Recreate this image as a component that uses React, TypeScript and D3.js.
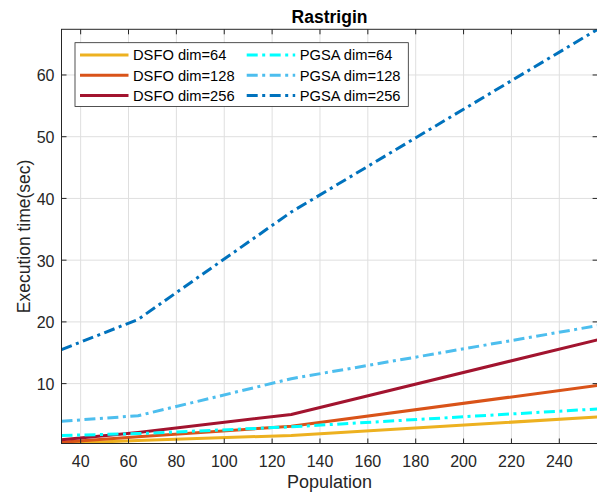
import React from "react";
import * as d3 from "d3";

const population = [32, 64, 128, 256];
const dsfo64 = [0.3, 0.8, 1.6, 4.6];
const dsfo128 = [0.5, 1.4, 3.1, 9.7];
const dsfo256 = [0.9, 2.1, 5.0, 17.1];
const pgsa64 = [1.6, 1.9, 3.0, 5.9];
const pgsa128 = [3.9, 4.8, 10.8, 19.4];
const pgsa256 = [15.5, 20.4, 37.8, 67.4];
const xTicks = [40, 60, 80, 100, 120, 140, 160, 180, 200, 220, 240];
const yTicks = [10, 20, 30, 40, 50, 60];

const seriesList = [
  { name: "DSFO dim=64", values: dsfo64, color: "#EDB120", dash: false },
  { name: "DSFO dim=128", values: dsfo128, color: "#D95319", dash: false },
  { name: "DSFO dim=256", values: dsfo256, color: "#A2142F", dash: false },
  { name: "PGSA dim=64", values: pgsa64, color: "#00FFFF", dash: true },
  { name: "PGSA dim=128", values: pgsa128, color: "#4DBEEE", dash: true },
  { name: "PGSA dim=256", values: pgsa256, color: "#0072BD", dash: true },
];

export default function App() {
  const W = 597, H = 494;
  const L = 61.5, R = 597.6, T = 29.3, B = 443.5;
  const x = d3.scaleLinear().domain([32, 256]).range([L, R]);
  const y = d3.scaleLinear().domain([0.3, 67.4]).range([B, T]);
  const line = d3.line<number>().x((_, i) => x(population[i])).y((v) => y(v));
  const font = "'Liberation Sans', Arial, Helvetica, sans-serif";
  const axisColor = "#262626";
  const dashArr = "11,4.5,3,4.5";
  const tickLen = 5;

  return (
    <div style={{ position: "absolute", left: 0, top: 0 }}>
      <svg width={W} height={H} style={{ display: "block", background: "#fff" }} fontFamily={font}>
        <defs>
          <clipPath id="plotclip">
            <rect x={L} y={T} width={R - L} height={B - T} />
          </clipPath>
        </defs>
        <rect x={0} y={0} width={W} height={H} fill="#fff" />
        {xTicks.map((t) => (
          <line key={"gx" + t} x1={x(t)} x2={x(t)} y1={T} y2={B} stroke="#dfdfdf" strokeWidth={1} />
        ))}
        {yTicks.map((t) => (
          <line key={"gy" + t} x1={L} x2={R} y1={y(t)} y2={y(t)} stroke="#dfdfdf" strokeWidth={1} />
        ))}
        <g clipPath="url(#plotclip)">
          {seriesList.map((s) => (
            <path
              key={s.name}
              d={line(s.values) || ""}
              fill="none"
              stroke={s.color}
              strokeWidth={3}
              strokeDasharray={s.dash ? dashArr : undefined}
              strokeLinejoin="round"
            />
          ))}
        </g>
        <rect x={L} y={T} width={R - L} height={B - T} fill="none" stroke={axisColor} strokeWidth={1} />
        {xTicks.map((t) => (
          <g key={"tx" + t}>
            <line x1={x(t)} x2={x(t)} y1={B} y2={B - tickLen} stroke={axisColor} />
            <line x1={x(t)} x2={x(t)} y1={T} y2={T + tickLen} stroke={axisColor} />
            <text x={x(t)} y={B + 23} textAnchor="middle" fontSize={16} fill={axisColor}>
              {t}
            </text>
          </g>
        ))}
        {yTicks.map((t) => (
          <g key={"ty" + t}>
            <line x1={L} x2={L + tickLen} y1={y(t)} y2={y(t)} stroke={axisColor} />
            <line x1={R} x2={R - tickLen} y1={y(t)} y2={y(t)} stroke={axisColor} />
            <text x={L - 7} y={y(t) + 6.5} textAnchor="end" fontSize={16} fill={axisColor}>
              {t}
            </text>
          </g>
        ))}
        <text x={(L + R) / 2} y={23} textAnchor="middle" fontSize={17.5} fontWeight="bold" fill="#000">
          Rastrigin
        </text>
        <text x={(L + R) / 2} y={488} textAnchor="middle" fontSize={18} fill={axisColor}>
          Population
        </text>
        <text
          transform={`translate(30,${(T + B) / 2}) rotate(-90)`}
          textAnchor="middle"
          fontSize={17.5}
          fill={axisColor}
        >
          Execution time(sec)
        </text>
        <rect x={75} y={42.7} width={333.3} height={63.8} fill="#fff" stroke={axisColor} strokeWidth={0.8} />
        {seriesList.map((s, i) => {
          const col = Math.floor(i / 3);
          const row = i % 3;
          const x0 = col === 0 ? 80 : 246.7;
          const ly = 55 + row * 20.2;
          return (
            <g key={"lg" + s.name}>
              <line
                x1={x0}
                x2={x0 + 48.5}
                y1={ly}
                y2={ly}
                stroke={s.color}
                strokeWidth={3}
                strokeDasharray={s.dash ? dashArr : undefined}
              />
              <text x={x0 + 53} y={ly + 5.3} fontSize={14.7} fill="#000">
                {s.name}
              </text>
            </g>
          );
        })}
      </svg>
    </div>
  );
}
